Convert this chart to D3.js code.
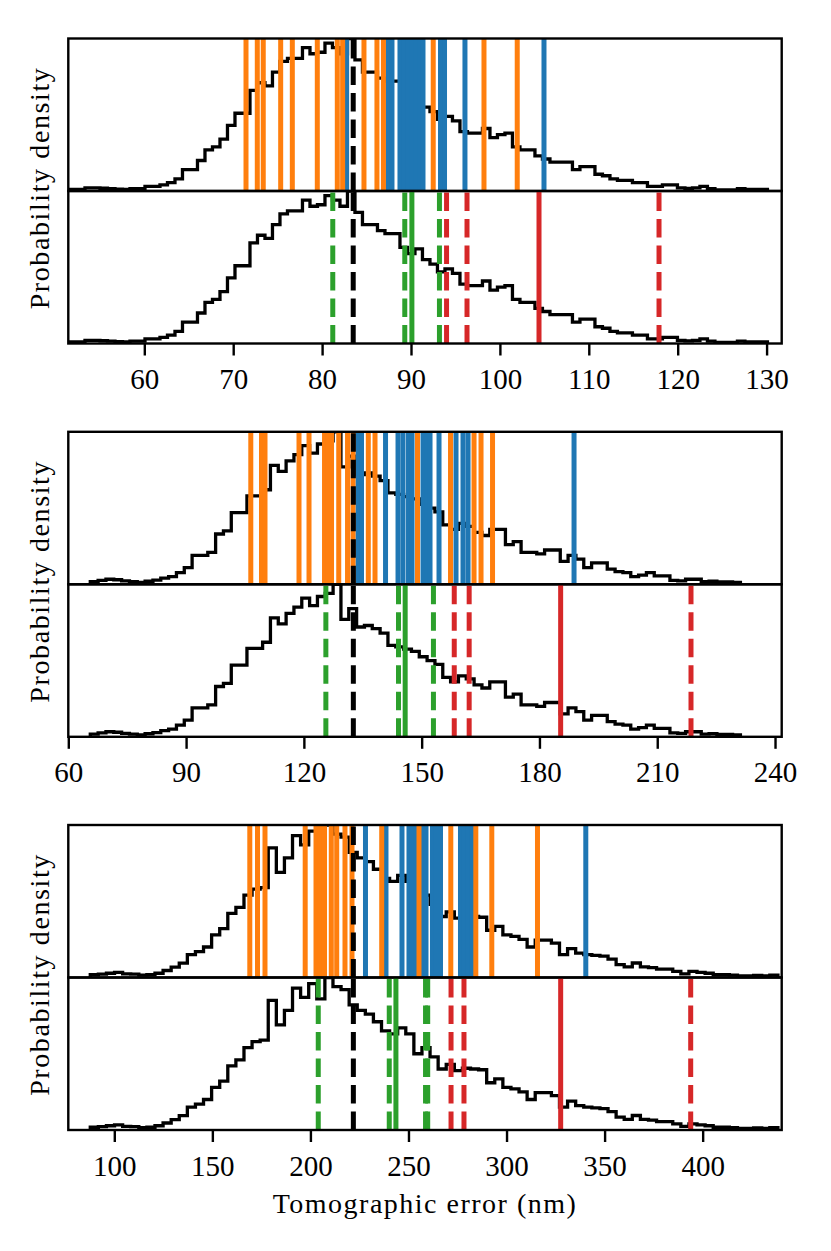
<!DOCTYPE html>
<html>
<head>
<meta charset="utf-8">
<script src="https://cdn.jsdelivr.net/npm/d3@7"></script>
<style>
  body { margin: 0; background: #fff; }
  text { font-family: "Liberation Serif", "DejaVu Serif", serif; }
</style>
</head>
<body>
<div id="chart"></div>
<script>
// ---- panel 1 (nm) ----
var xDomain1 = [51.45, 131.7];
var ticks1 = [60, 70, 80, 90, 100, 110, 120, 130];
var hist1Start = 51.64, hist1Width = 0.8436;
var hist1Density = [
  0.01, 0.01, 0.02, 0.02, 0.018, 0.015, 0.012, 0.01, 0.015, 0.015,
  0.03, 0.03, 0.04, 0.055, 0.08, 0.14, 0.14, 0.2, 0.27, 0.29,
  0.34, 0.43, 0.51, 0.51, 0.66, 0.71, 0.69, 0.78, 0.85, 0.87,
  0.87, 0.94, 0.90, 0.91, 0.97, 0.94, 0.90, 1.0, 0.86, 0.78,
  0.78, 0.74, 0.72, 0.72, 0.63, 0.59, 0.62, 0.55, 0.52, 0.47,
  0.49, 0.46, 0.39, 0.38, 0.38, 0.41, 0.35, 0.37, 0.38, 0.29,
  0.27, 0.27, 0.23, 0.21, 0.19, 0.19, 0.19, 0.14, 0.16, 0.16,
  0.11, 0.10, 0.08, 0.07, 0.07, 0.055, 0.055, 0.03, 0.03, 0.04,
  0.04, 0.02, 0.017, 0.02, 0.03, 0.015, 0.007, 0.007, 0.007, 0.015,
  0.01, 0.01, 0.01
];
var orange1 = [71.44, 72.71, 73.38, 75.34, 76.65, 79.46, 81.71, 82.31, 84.71, 86.17, 86.90, 92.50, 98.21, 101.95];
var blue1 = [82.76, 87.41, 87.86, 88.76, 89.21, 89.66, 90.11, 90.56, 91.01, 91.35, 93.32, 93.77, 96.07, 104.96];
var greenDashed1 = [81.2, 89.3, 93.2];
var greenSolid1 = [90.1];
var redDashed1 = [94.0, 96.3, 117.9];
var redSolid1 = [104.4];
var median1 = 83.5;

// ---- panel 2 ----
var xDomain2 = [60, 241.7];
var ticks2 = [60, 90, 120, 150, 180, 210, 240];
var hist2Start = 65.6, hist2Width = 1.995;
var hist2Density = [
  0.018, 0.026, 0.033, 0.03, 0.022, 0.018, 0.013, 0.02, 0.028, 0.04,
  0.05, 0.077, 0.11, 0.19, 0.19, 0.21, 0.33, 0.35, 0.47, 0.47,
  0.58, 0.58, 0.62, 0.78, 0.74, 0.81, 0.85, 0.91, 0.86, 0.92,
  0.94, 1.0, 0.77, 0.84, 0.72, 0.73, 0.71, 0.68, 0.60, 0.59,
  0.575, 0.56, 0.525, 0.50, 0.475, 0.39, 0.36, 0.40, 0.38, 0.34,
  0.32, 0.36, 0.36, 0.26, 0.28, 0.21, 0.21, 0.20, 0.225, 0.225,
  0.15, 0.19, 0.165, 0.11, 0.14, 0.14, 0.10, 0.083, 0.077, 0.05,
  0.06, 0.077, 0.055, 0.055, 0.026, 0.022, 0.033, 0.033, 0.018, 0.02,
  0.015, 0.015, 0.013
];
var orange2 = [106.48, 109.21, 110.10, 118.76, 121.31, 125.26, 126.15, 127.04, 128.88, 131.12, 132.52, 136.41, 138.12, 148.94, 157.35, 163.34, 165.12, 168.05];
var blue2 = [133.79, 134.68, 140.80, 143.98, 145.25, 146.65, 147.55, 150.35, 151.37, 152.13, 154.42, 158.75, 160.53, 161.81, 188.81];
var greenDashed2 = [125.6, 144.1, 153.0];
var greenSolid2 = [145.8];
var redDashed2 = [158.3, 162.1, 218.6];
var redSolid2 = [185.4];
var median2 = 132.6;

// ---- panel 3 ----
var xDomain3 = [76.55, 440.3];
var ticks3 = [100, 150, 200, 250, 300, 350, 400];
var hist3Start = 87.75, hist3Width = 4.125;
var hist3Density = [
  0.018, 0.022, 0.028, 0.033, 0.024, 0.022, 0.015, 0.018, 0.028, 0.046,
  0.068, 0.094, 0.15, 0.17, 0.20, 0.28, 0.32, 0.42, 0.46, 0.54,
  0.58, 0.59, 0.85, 0.69, 0.785, 0.93, 0.87, 0.96, 0.86, 1.0,
  0.94, 0.92, 0.82, 0.785, 0.76, 0.71, 0.65, 0.63, 0.67, 0.63,
  0.50, 0.54, 0.48, 0.40, 0.43, 0.39, 0.405, 0.40, 0.395, 0.31,
  0.335, 0.28, 0.27, 0.25, 0.20, 0.245, 0.245, 0.225, 0.15, 0.19,
  0.16, 0.15, 0.145, 0.14, 0.12, 0.085, 0.07, 0.095, 0.07, 0.065,
  0.055, 0.055, 0.04, 0.024, 0.04, 0.033, 0.028, 0.018, 0.018, 0.015,
  0.011, 0.011, 0.013, 0.011, 0.015
];
var orange3 = [169.09, 173.02, 176.84, 197.34, 202.85, 204.89, 207.18, 210.65, 213.40, 217.63, 221.20, 236.35, 255.36, 271.58, 284.33, 292.48, 315.78];
var blue3 = [228.08, 238.53, 246.69, 250.26, 252.05, 253.83, 257.15, 258.93, 262.24, 264.28, 266.33, 276.52, 278.56, 280.60, 282.64, 340.41];
var greenDashed3 = [204.0, 240.2, 258.7, 259.8];
var greenSolid3 = [243.6];
var redDashed3 = [271.7, 278.3, 393.9];
var redSolid3 = [327.6];
var median3 = 221.9;

var yLabel = "Probability density";
var xLabel = "Tomographic error (nm)";

var panels = [
  {xDomain: xDomain1, ticks: ticks1, start: hist1Start, bw: hist1Width, dens: hist1Density,
   orange: orange1, blue: blue1, gD: greenDashed1, gS: greenSolid1, rD: redDashed1, rS: redSolid1, median: median1},
  {xDomain: xDomain2, ticks: ticks2, start: hist2Start, bw: hist2Width, dens: hist2Density,
   orange: orange2, blue: blue2, gD: greenDashed2, gS: greenSolid2, rD: redDashed2, rS: redSolid2, median: median2},
  {xDomain: xDomain3, ticks: ticks3, start: hist3Start, bw: hist3Width, dens: hist3Density,
   orange: orange3, blue: blue3, gD: greenDashed3, gS: greenSolid3, rD: redDashed3, rS: redSolid3, median: median3}
];

var W = 831, H = 1251;
var left = 68.3, right = 781.7;
var panelTops = [38.5, 431.8, 825];
var subH = 152.5;
var colors = {orange: "#ff7f0e", blue: "#1f77b4", green: "#2ca02c", red: "#d62728"};
var lw = 5, dash = "18.5,8";

var svg = d3.select("#chart").append("svg")
  .attr("width", W).attr("height", H);
svg.append("rect").attr("width", W).attr("height", H).attr("fill", "#fff");

var defs = svg.append("defs");

panels.forEach(function (p, i) {
  var x = d3.scaleLinear().domain(p.xDomain).range([left, right]);
  var yMax = d3.max(p.dens);

  // step outline of the histogram
  var pts = [[p.start, 0]];
  p.dens.forEach(function (d, k) {
    pts.push([p.start + k * p.bw, d]);
    pts.push([p.start + (k + 1) * p.bw, d]);
  });
  pts.push([p.start + p.dens.length * p.bw, 0]);

  [0, 1].forEach(function (s) {
    var top = panelTops[i] + s * subH;
    var y = d3.scaleLinear().domain([0, yMax]).range([top + subH, top]);
    var id = "clip" + i + "_" + s;
    defs.append("clipPath").attr("id", id)
      .append("rect").attr("x", left).attr("y", top).attr("width", right - left).attr("height", subH);

    var g = svg.append("g").attr("clip-path", "url(#" + id + ")");

    g.append("path")
      .datum(pts)
      .attr("d", d3.line().x(function (d) { return x(d[0]); }).y(function (d) { return y(d[1]); }))
      .attr("fill", "none")
      .attr("stroke", "#000")
      .attr("stroke-width", 3.3)
      .attr("stroke-linejoin", "miter");

    function vlines(vals, color, dashed) {
      g.selectAll(null)
        .data(vals)
        .enter()
        .append("line")
          .attr("x1", function (d) { return x(d); })
          .attr("x2", function (d) { return x(d); })
          .attr("y1", top + subH)
          .attr("y2", top)
          .attr("stroke", color)
          .attr("stroke-width", lw)
          .attr("stroke-dasharray", dashed ? dash : null);
    }

    if (s === 0) {
      vlines(p.blue, colors.blue, false);
      vlines(p.orange, colors.orange, false);
    } else {
      vlines(p.gD, colors.green, true);
      vlines(p.gS, colors.green, false);
      vlines(p.rD, colors.red, true);
      vlines(p.rS, colors.red, false);
    }
    vlines([p.median], "#000", true);

    svg.append("rect")
      .attr("x", left).attr("y", top)
      .attr("width", right - left).attr("height", subH)
      .attr("fill", "none").attr("stroke", "#000").attr("stroke-width", 2.4);
  });

  // x axis under the lower subplot
  var ax = svg.append("g")
    .attr("transform", "translate(0," + (panelTops[i] + 2 * subH) + ")")
    .call(d3.axisBottom(x).tickValues(p.ticks).tickSize(12).tickPadding(13).tickFormat(d3.format("d")));
  ax.select(".domain").remove();
  ax.selectAll(".tick line").attr("stroke-width", 2.4);
  ax.selectAll(".tick text")
    .attr("font-family", "Liberation Serif, DejaVu Serif, serif")
    .attr("font-size", 29)
    .attr("fill", "#000");

  svg.append("text")
    .attr("transform", "translate(49," + (panelTops[i] + subH - 3) + ") rotate(-90)")
    .attr("text-anchor", "middle")
    .attr("font-size", 28)
    .style("letter-spacing", "1.6px")
    .text(yLabel);
});

svg.append("text")
  .attr("x", (left + right) / 2)
  .attr("y", 1213)
  .attr("text-anchor", "middle")
  .attr("font-size", 28)
  .style("letter-spacing", "1.5px")
  .text(xLabel);
</script>
</body>
</html>
